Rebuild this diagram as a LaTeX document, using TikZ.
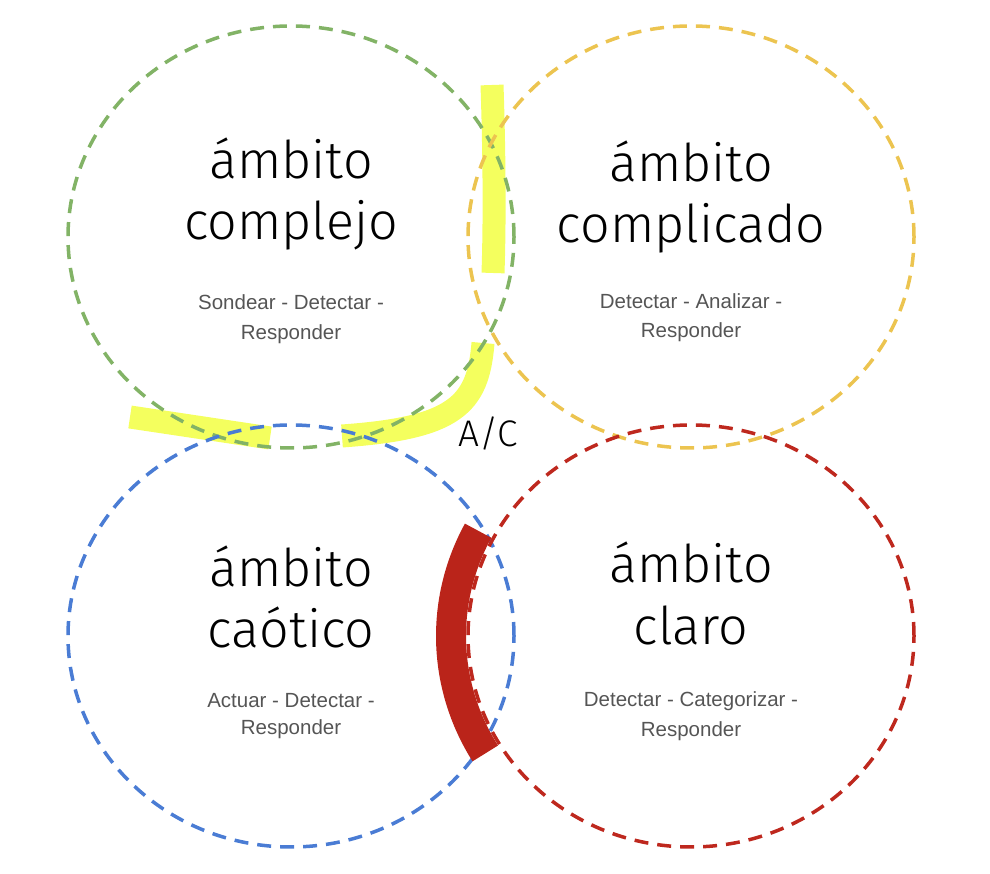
\documentclass[tikz,border=0pt]{standalone}
\usepackage{fontspec}
\setmainfont{Liberation Sans}
\newfontfamily\firalight{Fira Sans}[UprightFont={* Light}]
\definecolor{complejoGreen}{RGB}{130,179,102}
\definecolor{complicadoGold}{RGB}{236,196,80}
\definecolor{caoticoBlue}{RGB}{74,124,212}
\definecolor{claroRed}{RGB}{190,40,30}
\definecolor{bandRed}{RGB}{186,36,26}
\definecolor{bandYellow}{RGB}{244,255,94}
\definecolor{stepGray}{RGB}{85,85,85}
\begin{document}
\begin{tikzpicture}[x=1pt,y=1pt,
  domainring/.style={line width=3.5pt,dash pattern=on 14pt off 9pt},
  yellowband/.style={line width=23pt,draw=bandYellow},
  redband/.style={line width=30pt,draw=bandRed},
  domaintitle/.style={anchor=base,inner sep=0pt,font=\firalight\fontsize{52}{58}\selectfont},
  domainsteps/.style={anchor=base,inner sep=0pt,text=stepGray,font=\fontsize{20.5}{30}\selectfont}]
	\useasboundingbox (0,0) rectangle (990,874);
	\coordinate (complejo) at (291,637); % Domain.0
	\coordinate (complicado) at (691,637); % Domain.1
	\coordinate (caotico) at (291,238); % Domain.2
	\coordinate (claro) at (691,238); % Domain.3
	\coordinate (yA) at (492,789); \coordinate (yB) at (493,601); % Band.0
	\coordinate (yC) at (483,531); \coordinate (yD) at (342,438); % Band.1
	\coordinate (yE) at (130,457); \coordinate (yF) at (270,436); % Band.2
\draw[yellowband] (yA) .. controls (494,730) and (495,660) .. (yB) ; % Band.0
\draw[yellowband] (yC) .. controls (478,469) and (455,446) .. (yD) ; % Band.1
\draw[yellowband] (yE) -- (yF) ; % Band.2
\draw[domainring,complejoGreen] (complejo) ellipse [x radius=223pt,y radius=211pt] ; % Domain.0
\draw[domainring,complicadoGold] (complicado) ellipse [x radius=223pt,y radius=211pt] ; % Domain.1
\draw[domainring,caoticoBlue] (caotico) ellipse [x radius=223pt,y radius=211pt] ; % Domain.2
\draw[domainring,claroRed] (claro) ellipse [x radius=223pt,y radius=211pt] ; % Domain.3
\draw[redband] ([shift={(152.5:240pt and 228pt)}]claro) arc [start angle=152.5,end angle=211,x radius=240pt,y radius=228pt] ; % Band.3
\node[domaintitle] (complejoA) at (291,695) {ámbito}; % Domain.0
\node[domaintitle] (complejoB) at (291,634) {complejo}; % Domain.0
\node[domainsteps] (complejoC) at (291,564) {Sondear - Detectar -}; % Domain.0
\node[domainsteps] (complejoD) at (291,534) {Responder}; % Domain.0
\node[domaintitle] (complicadoA) at (691,692) {ámbito}; % Domain.1
\node[domaintitle] (complicadoB) at (691,631) {complicado}; % Domain.1
\node[domainsteps] (complicadoC) at (691,565) {Detectar - Analizar -}; % Domain.1
\node[domainsteps] (complicadoD) at (691,536) {Responder}; % Domain.1
\node[domaintitle] (caoticoA) at (291,287) {ámbito}; % Domain.2
\node[domaintitle] (caoticoB) at (291,226) {caótico}; % Domain.2
\node[domainsteps] (caoticoC) at (291,166) {Actuar - Detectar -}; % Domain.2
\node[domainsteps] (caoticoD) at (291,139) {Responder}; % Domain.2
\node[domaintitle] (claroA) at (691,291) {ámbito}; % Domain.3
\node[domaintitle] (claroB) at (691,229) {claro}; % Domain.3
\node[domainsteps] (claroC) at (691,167) {Detectar - Categorizar -}; % Domain.3
\node[domainsteps] (claroD) at (691,137) {Responder}; % Domain.3
\node[anchor=base,inner sep=0pt,font=\firalight\fontsize{37}{40}\selectfont] (ac) at (488,427) {A/C}; % Label.0
	\end{tikzpicture}
\end{document}
